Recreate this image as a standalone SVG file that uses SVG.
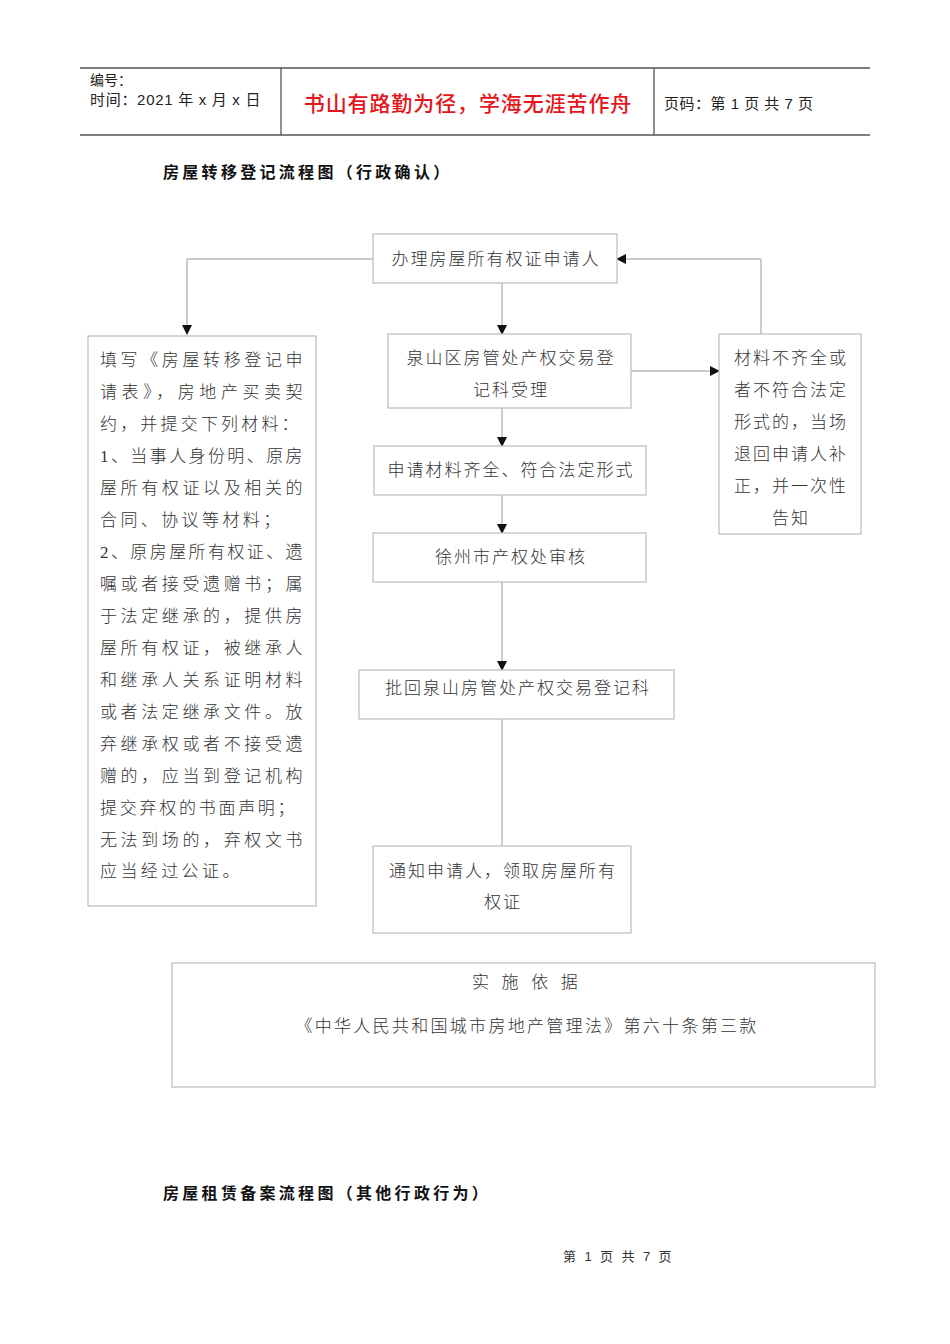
<svg xmlns="http://www.w3.org/2000/svg" width="950" height="1344" viewBox="0 0 950 1344">
<defs>
<style>
.t{font-family:"Liberation Serif","Noto Sans CJK SC",serif;font-size:17px;fill:#333;font-weight:300;letter-spacing:2px}
.box{fill:#fff;stroke:#bbb;stroke-width:1.2}
.hd{stroke:#555;stroke-width:1.3;fill:none}
.c{stroke:#999;stroke-width:1;fill:none}
.b{font-family:"Liberation Sans","Noto Sans CJK SC",sans-serif;font-size:16px;font-weight:700;fill:#111;letter-spacing:3.3px}
</style>
<marker id="ar" viewBox="0 0 10 10" refX="9" refY="5" markerWidth="10" markerHeight="10" markerUnits="userSpaceOnUse" orient="auto">
<path d="M0,0 L10,5 L0,10 z" fill="#111"/>
</marker>
</defs>
<rect width="950" height="1344" fill="#fff"/>
<g id="header">
<line class="hd" x1="80" y1="68" x2="870" y2="68"/>
<line class="hd" x1="80" y1="135" x2="870" y2="135"/>
<line class="hd" x1="281" y1="68" x2="281" y2="135"/>
<line class="hd" x1="654" y1="68" x2="654" y2="135"/>
<text x="90" y="85" font-family="Liberation Sans,'Noto Sans CJK SC',sans-serif" font-size="14" fill="#222">编号：</text>
<text x="90" y="105" font-family="Liberation Sans,'Noto Sans CJK SC',sans-serif" font-size="15" fill="#222" letter-spacing="0.7">时间：2021 年 x 月 x 日</text>
<text x="468" y="111" text-anchor="middle" font-family="'Noto Sans CJK SC',sans-serif" font-size="21" font-weight="500" fill="#e5141b" letter-spacing="0.9">书山有路勤为径，学海无涯苦作舟</text>
<text x="664" y="109" font-family="Liberation Sans,'Noto Sans CJK SC',sans-serif" font-size="15" fill="#222" letter-spacing="0.5">页码：第 1 页  共 7 页</text>
</g>
<text class="b" x="163" y="178">房屋转移登记流程图（行政确认）</text>
<g id="connectors">
<polyline class="c" points="373,259 187,259 187,334" marker-end="url(#ar)"/>
<line class="c" x1="502" y1="283" x2="502" y2="334" marker-end="url(#ar)"/>
<line class="c" x1="631" y1="371" x2="719" y2="371" marker-end="url(#ar)"/>
<polyline class="c" points="761,334 761,259 617,259" marker-end="url(#ar)"/>
<line class="c" x1="502" y1="408" x2="502" y2="446" marker-end="url(#ar)"/>
<line class="c" x1="502" y1="495" x2="502" y2="533" marker-end="url(#ar)"/>
<line class="c" x1="502" y1="582" x2="502" y2="670" marker-end="url(#ar)"/>
<line class="c" x1="502" y1="719" x2="502" y2="846"/>
</g>
<g id="n-applicant">
<rect class="box" x="373" y="234" width="244" height="49"/>
<text class="t" x="496" y="265" text-anchor="middle">办理房屋所有权证申请人</text>
</g>
<g id="n-materials">
<rect class="box" x="88" y="336" width="228" height="570"/>
<g class="t" style="letter-spacing:3.4px">
<text x="100" y="366" textLength="206" lengthAdjust="spacing">填写《房屋转移登记申</text>
<text x="100" y="398" textLength="206" lengthAdjust="spacing">请表》，房地产买卖契</text>
<text x="100" y="430" textLength="202" lengthAdjust="spacing">约，并提交下列材料：</text>
<text x="100" y="462" textLength="206" lengthAdjust="spacing">1、当事人身份明、原房</text>
<text x="100" y="494" textLength="206" lengthAdjust="spacing">屋所有权证以及相关的</text>
<text x="100" y="526">合同、协议等材料；</text>
<text x="100" y="558" textLength="206" lengthAdjust="spacing">2、原房屋所有权证、遗</text>
<text x="100" y="590" textLength="206" lengthAdjust="spacing">嘱或者接受遗赠书；属</text>
<text x="100" y="622" textLength="206" lengthAdjust="spacing">于法定继承的，提供房</text>
<text x="100" y="654" textLength="206" lengthAdjust="spacing">屋所有权证，被继承人</text>
<text x="100" y="686" textLength="206" lengthAdjust="spacing">和继承人关系证明材料</text>
<text x="100" y="718" textLength="206" lengthAdjust="spacing">或者法定继承文件。放</text>
<text x="100" y="750" textLength="206" lengthAdjust="spacing">弃继承权或者不接受遗</text>
<text x="100" y="782" textLength="206" lengthAdjust="spacing">赠的，应当到登记机构</text>
<text x="100" y="814" textLength="198" lengthAdjust="spacing">提交弃权的书面声明；</text>
<text x="100" y="846" textLength="206" lengthAdjust="spacing">无法到场的，弃权文书</text>
<text x="100" y="877">应当经过公证。</text>
</g>
</g>
<g id="n-accept">
<rect class="box" x="388" y="334" width="243" height="74"/>
<text class="t" x="511" y="364" text-anchor="middle">泉山区房管处产权交易登</text>
<text class="t" x="511" y="396" text-anchor="middle">记科受理</text>
</g>
<g id="n-reject">
<rect class="box" x="719" y="334" width="142" height="200"/>
<g class="t" text-anchor="middle">
<text x="791" y="364">材料不齐全或</text>
<text x="791" y="396">者不符合法定</text>
<text x="791" y="428">形式的，当场</text>
<text x="791" y="460">退回申请人补</text>
<text x="791" y="492">正，并一次性</text>
<text x="791" y="524">告知</text>
</g>
</g>
<g id="n-complete">
<rect class="box" x="374" y="446" width="272" height="49"/>
<text class="t" x="511" y="476" text-anchor="middle">申请材料齐全、符合法定形式</text>
</g>
<g id="n-review">
<rect class="box" x="373" y="533" width="273" height="49"/>
<text class="t" x="511" y="563" text-anchor="middle">徐州市产权处审核</text>
</g>
<g id="n-return">
<rect class="box" x="359" y="670" width="315" height="49"/>
<text class="t" x="518" y="694" text-anchor="middle">批回泉山房管处产权交易登记科</text>
</g>
<g id="n-notify">
<rect class="box" x="373" y="846" width="258" height="87"/>
<text class="t" x="503" y="877" text-anchor="middle">通知申请人，领取房屋所有</text>
<text class="t" x="503" y="908" text-anchor="middle">权证</text>
</g>
<g id="n-basis">
<rect class="box" x="172" y="963" width="703" height="124"/>
<text class="t" x="527" y="988" text-anchor="middle" style="letter-spacing:4.2px">实 施 依 据</text>
<text class="t" x="527" y="1032" text-anchor="middle" style="letter-spacing:2.3px">《中华人民共和国城市房地产管理法》第六十条第三款</text>
</g>
<text class="b" x="163" y="1199">房屋租赁备案流程图（其他行政行为）</text>
<text x="563" y="1261" font-family="Liberation Sans,'Noto Sans CJK SC',sans-serif" font-size="13" fill="#333" letter-spacing="2.4">第 1 页 共 7 页</text>
</svg>
